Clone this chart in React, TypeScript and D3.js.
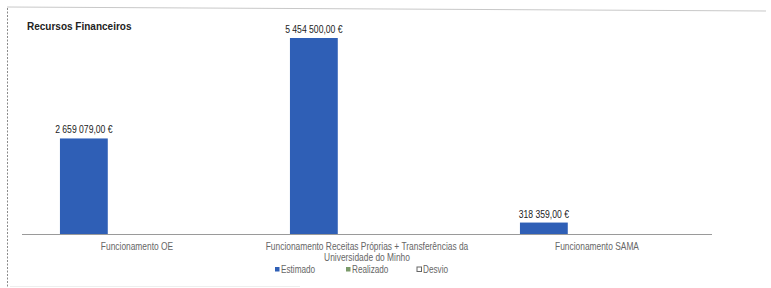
import React, { useEffect, useRef } from 'react';
import * as d3 from 'd3';

// dados
const categories = [
    ['Funcionamento OE'],
    ['Funcionamento Receitas Próprias + Transferências da', 'Universidade do Minho'],
    ['Funcionamento SAMA'],
];
const series = ['Estimado', 'Realizado', 'Desvio'];
const estimado = [2659079, 5454500, 318359];
const realizado = [0, 0, 0];
const desvio = [0, 0, 0];
const seriesColors = ['#2f5fb6', '#7b9a6a', '#ffffff'];

const W = 771;
const H = 288;

const fmt = (v: number) => {
    const [int, dec] = v.toFixed(2).split('.');
    return int.replace(/\B(?=(\d{3})+(?!\d))/g, ' ') + ',' + dec + ' €';
};

export default function App() {
    const ref = useRef<SVGSVGElement>(null);

    useEffect(() => {
        const svg = d3.select(ref.current);
        svg.selectAll('*').remove();
        const font = "'Liberation Sans', Arial, sans-serif";
        const squeeze = 0.82; // letra condensada

        // moldura
        svg.append('line').attr('x1', 7).attr('y1', 7).attr('x2', 766).attr('y2', 11)
            .attr('stroke', '#c8c8c8').attr('stroke-width', 1);
        svg.append('line').attr('x1', 7.5).attr('y1', 8).attr('x2', 7.5).attr('y2', 288)
            .attr('stroke', '#8a8a8a').attr('stroke-dasharray', '2,1.5');
        svg.append('line').attr('x1', 10).attr('y1', 286.5).attr('x2', 300).attr('y2', 286.5)
            .attr('stroke', '#eeeeee');

        svg.append('text')
            .attr('x', 27).attr('y', 30)
            .attr('font-family', font)
            .attr('font-weight', 'bold').attr('font-size', 10)
            .attr('fill', '#222')
            .text('Recursos Financeiros');

        const x0 = d3.scaleBand<number>()
            .domain(d3.range(categories.length))
            .range([22, 712])
            .paddingInner(0.33)
            .paddingOuter(0.165);
        const x1 = d3.scaleBand<string>()
            .domain(series)
            .range([0, x0.bandwidth()])
            .paddingInner(0.1);
        const y = d3.scaleLinear().domain([0, 5454500]).range([234, 38]);

        const data = [estimado, realizado, desvio];
        const chart = svg.append('g');

        // barras
        series.forEach((s, si) => {
            chart.selectAll(null)
                .data(data[si])
                .enter()
                .filter((d) => d > 0)
                .append('rect')
                .attr('x', (d, i) => x0(i)! + x1(s)!)
                .attr('y', (d) => y(d))
                .attr('width', x1.bandwidth())
                .attr('height', (d) => y(0) - y(d))
                .attr('fill', seriesColors[si]);
        });

        // eixo
        svg.append('line')
            .attr('x1', 22).attr('x2', 712)
            .attr('y1', y(0) + 0.5).attr('y2', y(0) + 0.5)
            .attr('stroke', '#9a9a9a').attr('stroke-width', 1);

        // rótulos de valor
        chart.selectAll(null)
            .data(estimado)
            .enter()
            .append('text')
            .attr('transform', (d, i) =>
                `translate(${x0(i)! + x1('Estimado')! + x1.bandwidth() / 2}, ${y(d) - 5}) scale(${squeeze}, 1)`)
            .attr('text-anchor', 'middle')
            .attr('font-family', font)
            .attr('font-size', 10.5)
            .attr('fill', '#222')
            .text((d) => fmt(d));

        // categorias
        svg.selectAll(null)
            .data(categories.flatMap((lines, i) => lines.map((t, j) => ({ t, i, j }))))
            .enter()
            .append('text')
            .attr('transform', (d) =>
                `translate(${x0(d.i)! + x0.bandwidth() / 2}, ${250 + d.j * 11}) scale(0.84, 1)`)
            .attr('text-anchor', 'middle')
            .attr('font-family', font)
            .attr('font-size', 10)
            .attr('fill', '#666')
            .text((d) => d.t);

        // legenda
        const legendX = [275, 346, 417];
        const leg = svg.selectAll('g.leg')
            .data(series)
            .enter()
            .append('g')
            .attr('class', 'leg')
            .attr('transform', (d, i) => `translate(${legendX[i]}, 272)`);
        leg.append('rect')
            .attr('x', 0).attr('y', -5)
            .attr('width', 4.5).attr('height', 4.5)
            .attr('fill', (d, i) => seriesColors[i])
            .attr('stroke', (d, i) => (i === 2 ? '#666' : 'none'))
            .attr('stroke-width', 1);
        leg.append('text')
            .attr('transform', `translate(6, 1) scale(${squeeze}, 1)`)
            .attr('font-family', font)
            .attr('font-size', 10)
            .attr('fill', '#666')
            .text((d) => d);
    }, []);

    return (
        <svg ref={ref} width={W} height={H}
            style={{ position: 'absolute', left: 0, top: 0, background: '#fff' }} />
    );
}
